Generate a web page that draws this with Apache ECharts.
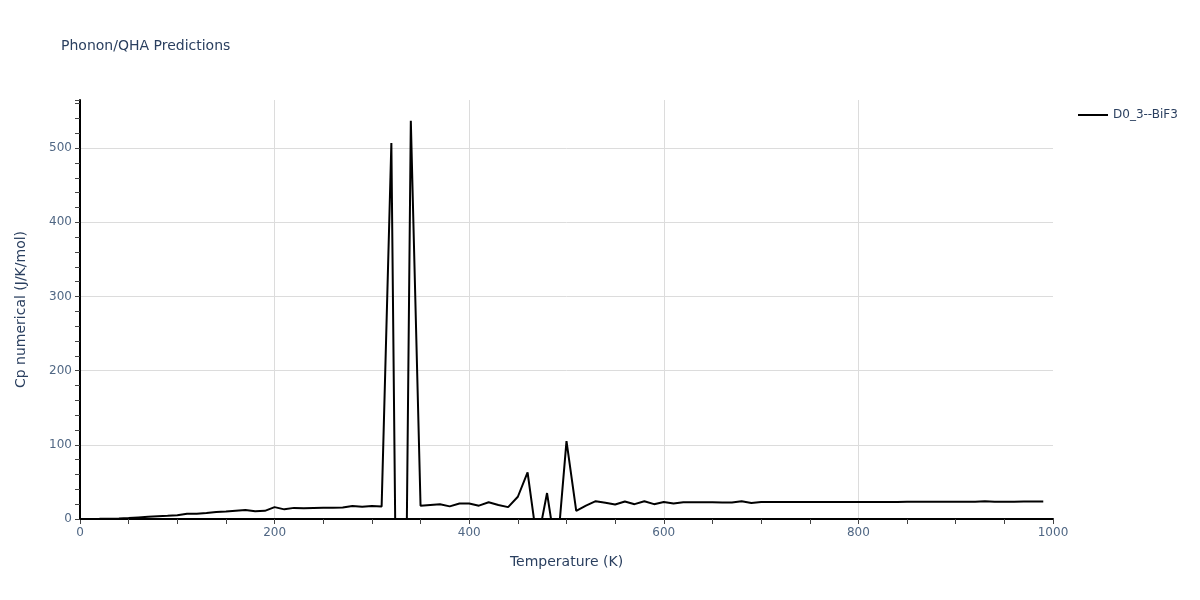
<!DOCTYPE html>
<html>
<head>
<meta charset="utf-8">
<script src="https://cdn.jsdelivr.net/npm/echarts@6/dist/echarts.min.js"></script>
<style>html,body{margin:0;padding:0;background:#fff}#c{width:1200px;height:600px}</style>
</head>
<body>
<div id="c"></div>
<script>
const seriesName = 'D0_3--BiF3';
const temperatures = [0,10,20,30,40,50,60,70,80,90,100,110,120,130,140,150,160,170,180,190,200,210,220,230,240,250,260,270,280,290,300,310,320,330,340,350,360,370,380,390,400,410,420,430,440,450,460,470,480,490,500,510,520,530,540,550,560,570,580,590,600,610,620,630,640,650,660,670,680,690,700,710,720,730,740,750,760,770,780,790,800,810,820,830,840,850,860,870,880,890,900,910,920,930,940,950,960,970,980,990];
const cpValues = [0,0.05,0.2,0.4,0.8,1.3,2.1,2.9,3.7,4.4,5.2,7,7,8,9.4,10,11,12,10.5,11,16,13,15,14.5,15,15.2,15.3,15.4,17.5,16.6,17.5,17,507,-785,537,18,19,20,17,21,21,18,22.5,19,16,30,63,-33,35,-50,105,11,18,24,22,19.5,23.5,20,24,20,23,21,22.5,22.6,22.6,22.5,22.4,22.3,24,21.5,22.8,22.8,22.8,22.8,22.8,22.8,22.8,22.8,22.8,22.8,22.8,22.9,22.9,23,23,23.1,23.1,23.1,23.2,23.2,23.2,23.3,23.3,24,23.3,23.4,23.4,23.5,23.5,23.5];
const xTicks = [0,200,400,600,800,1000];
const yTicks = [0,100,200,300,400,500];

const font = '"DejaVu Sans", Verdana, sans-serif';
const textColor = '#2a3f5f';
const tickColor = '#506784';
const chart = echarts.init(document.getElementById('c'), null, {renderer:'canvas'});
chart.setOption({
  animation: false,
  backgroundColor: '#fff',
  title: {
    text: 'Phonon/QHA Predictions',
    left: 56, top: 34,
    textStyle: {fontFamily: font, fontSize: 14, fontWeight: 'normal', color: textColor}
  },
  legend: {
    data: [seriesName],
    left: 1073, top: 104,
    itemWidth: 30, itemHeight: 2, itemGap: 10,
    icon: 'rect',
    textStyle: {fontFamily: font, fontSize: 12, color: textColor, padding: [0,0,0,0]}
  },
  grid: {left: 80, right: 147, top: 100, bottom: 81, containLabel: false},
  xAxis: {
    type: 'value',
    min: xTicks[0], max: xTicks[xTicks.length-1], interval: 200,
    name: 'Temperature (K)', nameLocation: 'middle', nameGap: 36,
    nameTextStyle: {fontFamily: font, fontSize: 14, color: textColor},
    axisLine: {show: true, onZero: false, lineStyle: {color: '#000', width: 2}},
    axisTick: {show: true, length: 5, lineStyle: {color: '#444'}},
    minorTick: {show: true, splitNumber: 4, length: 5, lineStyle: {color: '#444'}},
    axisLabel: {fontFamily: font, fontSize: 12, color: tickColor, margin: 8,
      formatter: v => xTicks.includes(v) ? String(v) : ''},
    splitLine: {show: true, showMinLine: false, showMaxLine: false, lineStyle: {color: '#dcdcdc', width: 1}}
  },
  yAxis: {
    type: 'value',
    min: yTicks[0], max: 565, interval: 100,
    name: 'Cp numerical (J/K/mol)', nameLocation: 'middle', nameGap: 52,
    nameTextStyle: {fontFamily: font, fontSize: 14, color: textColor},
    axisLine: {show: true, onZero: false, lineStyle: {color: '#000', width: 2}},
    axisTick: {show: true, length: 5, lineStyle: {color: '#444'}},
    minorTick: {show: true, splitNumber: 5, length: 5, lineStyle: {color: '#444'}},
    axisLabel: {fontFamily: font, fontSize: 12, color: tickColor, margin: 8, showMaxLabel: false,
      formatter: v => yTicks.includes(v) ? String(v) : ''},
    splitLine: {show: true, showMinLine: false, showMaxLine: false, lineStyle: {color: '#dcdcdc', width: 1}}
  },
  series: [{
    name: seriesName,
    type: 'line',
    data: temperatures.map((t, i) => [t, cpValues[i]]),
    showSymbol: false, symbol: 'none',
    clip: true,
    lineStyle: {color: '#000', width: 2},
    itemStyle: {color: '#000'}
  }]
});
</script>
</body>
</html>
